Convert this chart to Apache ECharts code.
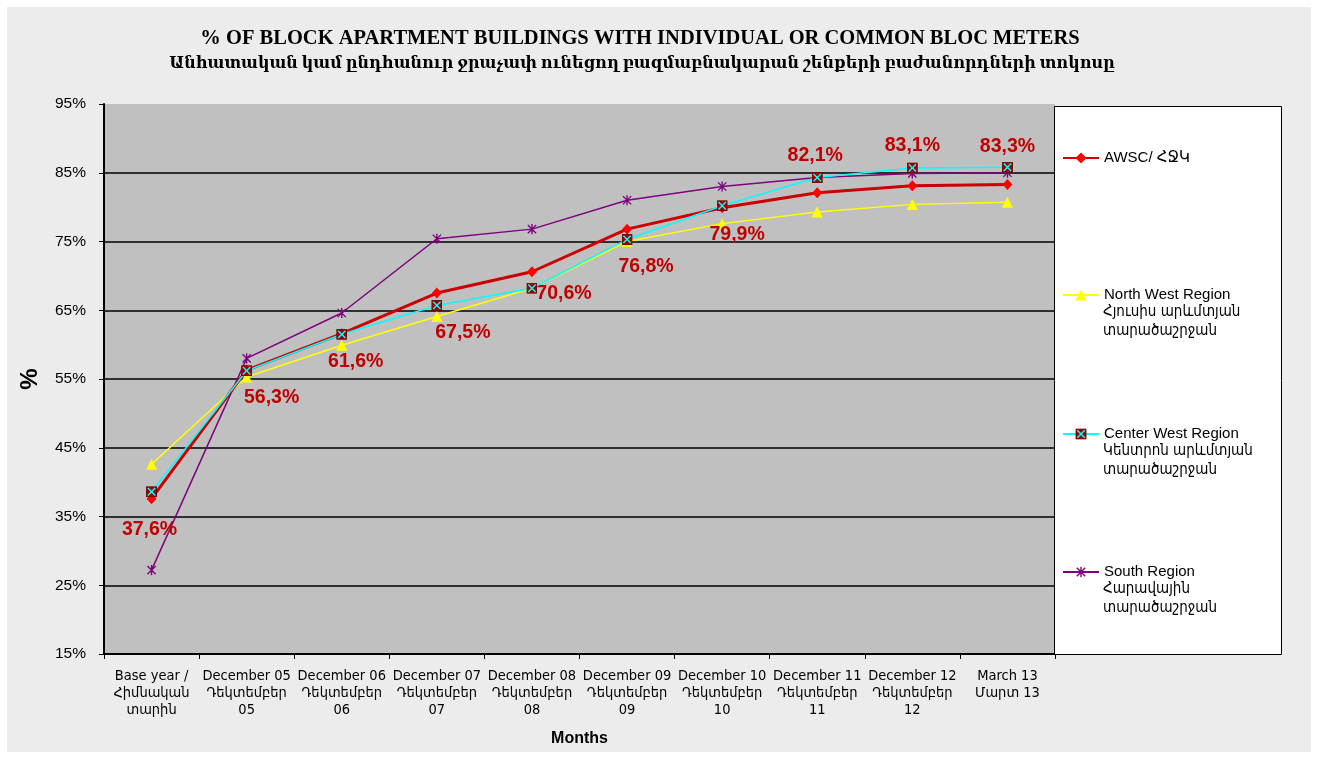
<!DOCTYPE html>
<html>
<head>
<meta charset="utf-8">
<script src="https://cdn.jsdelivr.net/npm/echarts@6/dist/echarts.min.js"></script>
<style>
  html, body { margin: 0; padding: 0; background: #ffffff; }
  #bg { position: absolute; left: 7px; top: 7px; width: 1304px; height: 745px; background: #ececec; }
  #chart { position: absolute; left: 0; top: 0; width: 1317px; height: 758px; }
</style>
</head>
<body>
<div id="bg"></div>
<div id="chart"></div>
<script>
const categoriesEn = ['Base year /', 'December 05', 'December 06', 'December 07', 'December 08', 'December 09', 'December 10', 'December 11', 'December 12', 'March 13']
const categoriesHy = ['Հիմնական', 'Դեկտեմբեր', 'Դեկտեմբեր', 'Դեկտեմբեր', 'Դեկտեմբեր', 'Դեկտեմբեր', 'Դեկտեմբեր', 'Դեկտեմբեր', 'Դեկտեմբեր', 'Մարտ 13']
const categoriesHy2 = ['տարին', '05', '06', '07', '08', '09', '10', '11', '12', '']

const awsc = [37.6, 56.3, 61.6, 67.5, 70.6, 76.8, 79.9, 82.1, 83.1, 83.3]
const northWest = [42.6, 55.3, 59.9, 64.1, 68.2, 75.0, 77.6, 79.3, 80.4, 80.7]
const centerWest = [38.6, 56.2, 61.5, 65.7, 68.2, 75.3, 80.2, 84.3, 85.7, 85.8]
const south = [27.2, 58.0, 64.6, 75.4, 76.8, 81.0, 83.0, 84.3, 84.9, 85.0]

const seriesNames = ['AWSC/ ՀՋԿ', 'North West Region', 'Center West Region', 'South Region']
const legendSubLines = [[], ['Հյուսիս արևմտյան', 'տարածաշրջան'], ['Կենտրոն արևմտյան', 'տարածաշրջան'], ['Հարավային', 'տարածաշրջան']]

const yMin = 15
const yMax = 95
const yStep = 10

const titleEn = '% OF BLOCK APARTMENT BUILDINGS WITH INDIVIDUAL OR COMMON BLOC METERS'
const titleHy = 'Անհատական կամ ընդհանուր ջրաչափ ունեցող բազմաբնակարան շենքերի բաժանորդների տոկոսը'

// label offsets (px) for the AWSC value labels, relative to the point
const labelOffsets = [[-2, 31], [25, 28], [14, 28], [26, 40], [32, 22], [19, 37], [15, 27], [-2, -37], [0, -40], [0, -38]]

const svgUrl = (svg) => 'image://data:image/svg+xml;charset=utf-8,' + encodeURIComponent(svg)

const boxX = svgUrl('<svg xmlns="http://www.w3.org/2000/svg" width="12" height="12" viewBox="0 0 12 12">' +
  '<rect x="0.5" y="0.5" width="11" height="11" fill="#a00000" stroke="#700000" stroke-width="1"/>' +
  '<path d="M2 2 L10 10 M10 2 L2 10" stroke="#00ffff" stroke-width="1.6"/></svg>')

const asterisk = svgUrl('<svg xmlns="http://www.w3.org/2000/svg" width="12" height="12" viewBox="0 0 12 12">' +
  '<path d="M1.5 1.5 L10.5 10.5 M10.5 1.5 L1.5 10.5 M6 0.5 L6 11.5" stroke="#800080" stroke-width="1.5" fill="none"/></svg>')

const categories = categoriesEn.map((c, i) => [c, categoriesHy[i], categoriesHy2[i]].filter(s => s).join('\n'))

const labelFont = {
  fontFamily: '"Liberation Sans", Arial, "DejaVu Sans", sans-serif'
}

const chart = echarts.init(document.getElementById('chart'), null, { renderer: 'canvas' })

const graphics = [
  {
    type: 'rect',
    shape: { x: 1054.5, y: 106.5, width: 227, height: 548 },
    style: { fill: '#ffffff', stroke: '#000000', lineWidth: 1 },
    z: 1
  },
  {
    type: 'text',
    x: 640, y: 39, z: 10,
    style: {
      text: titleEn, textAlign: 'center', textVerticalAlign: 'middle',
      font: 'bold 20.5px "Liberation Serif", "Times New Roman", serif', fill: '#000000'
    }
  },
  {
    type: 'text',
    x: 642, y: 64, z: 10,
    style: {
      text: titleHy, textAlign: 'center', textVerticalAlign: 'middle',
      font: 'bold 16px "Liberation Serif", "DejaVu Serif", serif', fill: '#000000'
    }
  }
]

const legendTops = [156, 293, 432, 570]
legendSubLines.forEach((lines, i) => {
  lines.forEach((t, j) => {
    graphics.push({
      type: 'text',
      x: 1103, y: legendTops[i] + 19 * (j + 1), z: 10,
      style: {
        text: t, textAlign: 'left', textVerticalAlign: 'middle',
        font: '15px "DejaVu Sans Condensed", "DejaVu Sans", sans-serif', fill: '#000000'
      }
    })
  })
})

const legends = seriesNames.map((name, i) => ({
  orient: 'vertical',
  left: 1062,
  top: legendTops[i] - 6,
  padding: 0,
  itemWidth: 36,
  itemHeight: 14,
  itemGap: 0,
  z: 20,
  data: [name],
  textStyle: {
    fontSize: 15, lineHeight: 16, color: '#000000',
    fontFamily: '"Liberation Sans", Arial, "DejaVu Sans", sans-serif'
  }
}))

const option = {
  backgroundColor: 'transparent',
  animation: false,
  grid: {
    left: 104, right: 262, top: 104, bottom: 104,
    show: true, backgroundColor: '#c0c0c0', borderWidth: 0
  },
  legend: legends,
  xAxis: {
    type: 'category',
    data: categories,
    boundaryGap: true,
    name: 'Months',
    nameLocation: 'middle',
    nameGap: 77,
    nameTextStyle: { fontSize: 16, fontWeight: 'bold', color: '#000000', ...labelFont },
    axisLine: { lineStyle: { color: '#000000', width: 2 } },
    axisTick: { show: true, length: 5, lineStyle: { color: '#000000', width: 1 } },
    axisLabel: {
      interval: 0, color: '#000000', fontSize: 14.5, lineHeight: 17, margin: 14,
      fontFamily: '"Liberation Sans Narrow", "DejaVu Sans Condensed", sans-serif'
    },
    splitLine: { show: false }
  },
  yAxis: {
    type: 'value',
    min: yMin,
    max: yMax,
    interval: yStep,
    name: '%',
    nameLocation: 'middle',
    nameRotate: 90,
    nameGap: 62,
    nameTextStyle: { fontSize: 24, fontWeight: 'bold', color: '#000000', ...labelFont },
    axisLine: { show: true, lineStyle: { color: '#000000', width: 2 } },
    axisTick: { show: true, length: 5, lineStyle: { color: '#000000', width: 1 } },
    axisLabel: {
      color: '#000000', fontSize: 15.5, margin: 18,
      formatter: (v) => v + '%',
      ...labelFont
    },
    splitLine: {
      show: true, showMinLine: false, showMaxLine: false,
      lineStyle: { color: '#000000', width: 1.5 }
    }
  },
  series: [
    {
      name: seriesNames[1],
      type: 'line',
      data: northWest,
      symbol: 'triangle',
      symbolSize: 11,
      itemStyle: { color: '#ffff00' },
      lineStyle: { color: '#ffff00', width: 1.5 },
      z: 3
    },
    {
      name: seriesNames[3],
      type: 'line',
      data: south,
      symbol: asterisk,
      symbolSize: 11,
      itemStyle: { color: '#800080' },
      lineStyle: { color: '#800080', width: 1.5 },
      z: 3
    },
    {
      name: seriesNames[0],
      type: 'line',
      data: awsc.map((v, i) => ({
        value: v,
        label: { offset: labelOffsets[i] }
      })),
      symbol: 'diamond',
      symbolSize: [10, 11],
      itemStyle: { color: '#ff0000' },
      lineStyle: { color: '#cc0000', width: 3 },
      label: {
        show: true,
        position: 'inside',
        align: 'center',
        verticalAlign: 'middle',
        formatter: (p) => p.value.toFixed(1).replace('.', ',') + '%',
        color: '#c00000',
        fontSize: 19.5,
        fontWeight: 'bold',
        ...labelFont
      },
      z: 4
    },
    {
      name: seriesNames[2],
      type: 'line',
      data: centerWest,
      symbol: boxX,
      symbolSize: 11,
      itemStyle: { color: '#00ffff' },
      lineStyle: { color: '#00ffff', width: 1.5 },
      z: 5
    }
  ],
  graphic: graphics
}

chart.setOption(option)
</script>
</body>
</html>
